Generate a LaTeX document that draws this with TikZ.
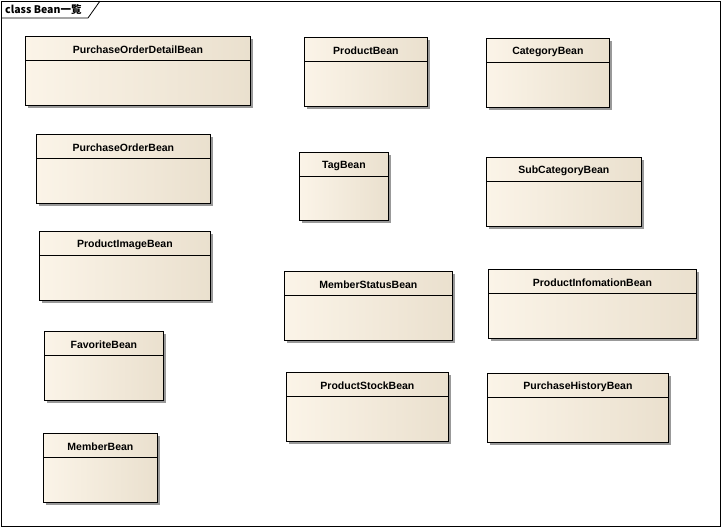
\documentclass[tikz,border=0pt]{standalone}
\usepackage{fontspec}
\usepackage{tikz}
\usetikzlibrary{shadows}
\usepackage{xcolor}
\newfontfamily\beanfont{Liberation Sans}
\newfontfamily\titlefont{Noto Sans CJK JP}
\definecolor{beanLight}{HTML}{FBF4E8}
\definecolor{beanDark}{HTML}{EAE0CE}

\begin{document}
\begin{tikzpicture}[
  x=1pt, y=-1pt,
  bean/.style={
    draw,
    rectangle,
    line width=0.8pt,
    anchor=north west,
    left color=beanLight,
    right color=beanDark,
    minimum height=69pt,
    inner sep=0pt,
    drop shadow={shadow xshift=3pt, shadow yshift=-3pt, fill=black!40, opacity=1},
    path picture={
      \draw[line width=0.8pt] ([yshift=-24pt]path picture bounding box.north west)
        -- ([yshift=-24pt]path picture bounding box.north east);
    }
  },
  beanname/.style={
    anchor=north,
    minimum height=27pt,
    inner sep=0pt,
    font=\beanfont\fontsize{10.5}{12}\selectfont\bfseries
  }
]
\useasboundingbox (0,0) rectangle (722,528);

% frame
\draw[line width=0.8pt] (1,1) rectangle (720,526);
\draw[line width=0.8pt] (1,18) -- (88,18) -- (100,1);
\node[anchor=west, inner sep=0pt, font=\titlefont\fontsize{10.5}{12}\selectfont\bfseries] (title) at (5,10) {class Bean一覧};

% left column
\node[bean, minimum width=225pt, label={[beanname, name=podName]north:PurchaseOrderDetailBean}] (pod) at (25,36) {};
\node[bean, minimum width=174pt, label={[beanname, name=poName]north:PurchaseOrderBean}] (po) at (36,134) {};
\node[bean, minimum width=171pt, label={[beanname, name=imgName]north:ProductImageBean}] (img) at (39,231) {};
\node[bean, minimum width=119pt, label={[beanname, name=favName]north:FavoriteBean}] (fav) at (44,331) {};
\node[bean, minimum width=114pt, label={[beanname, name=memberName]north:MemberBean}] (member) at (43,433) {};

% middle column
\node[bean, minimum width=123pt, label={[beanname, name=prodName]north:ProductBean}] (prod) at (304,37) {};
\node[bean, minimum width=89pt, minimum height=68pt, label={[beanname, name=tagName]north:TagBean}] (tag) at (299,152) {};
\node[bean, minimum width=168pt, label={[beanname, name=mstatName]north:MemberStatusBean}] (mstat) at (284,271) {};
\node[bean, minimum width=162pt, label={[beanname, name=stockName]north:ProductStockBean}] (stock) at (286,372) {};

% right column
\node[bean, minimum width=123pt, label={[beanname, name=catName]north:CategoryBean}] (cat) at (486,38) {};
\node[bean, minimum width=155pt, label={[beanname, name=subcatName]north:SubCategoryBean}] (subcat) at (486,157) {};
\node[bean, minimum width=208pt, label={[beanname, name=pinfoName]north:ProductInfomationBean}] (pinfo) at (488,269) {};
\node[bean, minimum width=181pt, label={[beanname, name=phistName]north:PurchaseHistoryBean}] (phist) at (487,373) {};

\end{tikzpicture}
\end{document}
